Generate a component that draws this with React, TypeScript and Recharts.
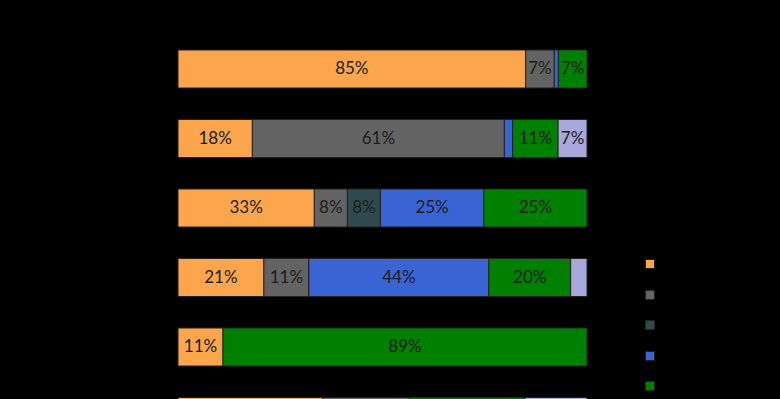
import { BarChart, Bar, XAxis, YAxis, Legend, LabelList } from 'recharts'

const categories = ['Group A', 'Group B', 'Group C', 'Group D', 'Group E', 'Group F']
const seriesNames = ['Type 1', 'Type 2', 'Type 3', 'Type 4', 'Type 5', 'Type 6']
const seriesColors = ['#FBA54C', '#636363', '#2E4A4E', '#3A64D4', '#008000', '#A8A8DC']

const type1 = [85, 18, 33, 21, 11, 35]
const type2 = [7, 61, 8, 11, 0, 21]
const type3 = [0, 0, 8, 0, 0, 0]
const type4 = [1, 2, 25, 44, 0, 0]
const type5 = [7, 11, 25, 20, 89, 28]
const type6 = [0, 7, 0, 4, 0, 15]

const seriesValues = [type1, type2, type3, type4, type5, type6]
const keys = ['s1', 's2', 's3', 's4', 's5', 's6']

const data = categories.map((name, i) => {
  const row: Record<string, string | number> = { name }
  keys.forEach((k, j) => {
    row[k] = seriesValues[j][i]
  })
  return row
})

function renderLabel(props: any) {
  const { x, y, width, height, value } = props
  let v = value
  if (Array.isArray(v)) v = Math.round((v[1] - v[0]) * 100)
  if (v == null || v < 5) return null
  return (
    <text
      x={x + width / 2}
      y={y + height / 2 + 1}
      textAnchor="middle"
      dominantBaseline="middle"
      fontSize={17}
      fill="#1c1c1c"
      fontFamily="Lato, sans-serif"
    >
      {v}%
    </text>
  )
}

function LegendBox() {
  return (
    <div>
      {seriesNames.map((n, i) => (
        <div key={n} style={{ display: 'flex', alignItems: 'center', height: 30.5 }}>
          <span
            style={{
              width: 8,
              height: 8,
              background: seriesColors[i],
              border: '1px solid #222',
              marginRight: 8,
            }}
          />
          <span style={{ color: '#000', fontSize: 13 }}>{n}</span>
        </div>
      ))}
    </div>
  )
}

export default function App() {
  return (
    <div
      style={{
        position: 'fixed',
        top: 0,
        left: 0,
        width: 780,
        height: 399,
        overflow: 'hidden',
        background: '#000',
        fontFamily: 'Lato, sans-serif',
      }}
    >
      <BarChart
        width={780}
        height={470}
        data={data}
        layout="vertical"
        stackOffset="expand"
        margin={{ top: 34, right: 63, bottom: 19, left: 0 }}
      >
        <XAxis type="number" hide domain={[0, 1]} />
        <YAxis
          type="category"
          dataKey="name"
          width={178}
          axisLine={false}
          tickLine={false}
          tick={{ fill: '#000', fontSize: 14 }}
        />
        <Legend
          layout="vertical"
          align="right"
          verticalAlign="top"
          wrapperStyle={{ top: 249, left: 645, width: 130 }}
          content={<LegendBox />}
        />
        {keys.map((k, j) => (
          <Bar
            key={k}
            dataKey={k}
            name={seriesNames[j]}
            stackId="a"
            fill={seriesColors[j]}
            stroke="#222"
            strokeWidth={1}
            barSize={38}
            isAnimationActive={false}
          >
            <LabelList dataKey={k} content={renderLabel} />
          </Bar>
        ))}
      </BarChart>
    </div>
  )
}
